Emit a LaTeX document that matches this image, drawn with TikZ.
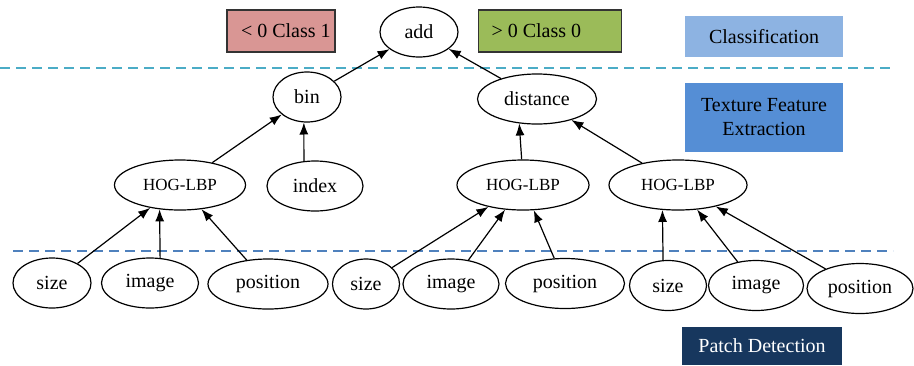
\documentclass[tikz,border=0pt]{standalone}
\usepackage{fontspec}
\setmainfont{Liberation Serif}
\usetikzlibrary{shapes.geometric,arrows.meta}
\definecolor{classred}{HTML}{D99694}
\definecolor{classgreen}{HTML}{9BBB59}
\definecolor{levellight}{HTML}{8DB3E2}
\definecolor{levelmid}{HTML}{558ED5}
\definecolor{leveldark}{HTML}{17375E}
\definecolor{sepcyan}{HTML}{4BACC6}
\definecolor{sepblue}{HTML}{4F81BD}
\newcommand{\lefttext}[2]{\makebox[#1][l]{#2}}
\begin{document}
\begin{tikzpicture}[x=0.5pt, y=-0.5pt,
		ell/.style={draw, ellipse, line width=0.6pt, inner sep=0pt, minimum height=25pt},
		hog/.style={ell, font=\fontsize{8.5}{10}\selectfont},
		classbox/.style={draw=black!80, line width=0.6pt, rectangle, minimum height=21pt, inner xsep=0pt},
		levelbox/.style={rectangle, minimum width=79pt, align=center},
		sepline/.style={dashed, dash pattern=on 5pt off 3pt, line width=0.7pt},
		edge/.style={->, >={Latex[length=6pt,width=4.5pt]}, line width=0.6pt}]
				\useasboundingbox (0, 0) rectangle (914, 365);
				% classification level
				\node[classbox, fill=classred, minimum width=54pt] (C1)at(281, 31) {\lefttext{40pt}{< 0 Class 1}};
				\node[ell, minimum width=39pt] (ADD)at(419, 32) {add};
				\node[classbox, fill=classgreen, minimum width=71.5pt] (C0)at(550, 31) {\lefttext{58.5pt}{> 0 Class 0}};
				\node[levelbox, fill=levellight, minimum height=20.5pt] (LC)at(764, 36.5) {Classification};
				\draw[sepline, sepcyan] (0, 68) -- (895, 68);
				% texture feature extraction level
				\node[ell, minimum width=34pt] (BIN)at(307, 97) {bin};
				\node[ell, minimum width=59.5pt] (DIST)at(537, 99) {distance};
				\node[levelbox, fill=levelmid, minimum height=34.5pt] (LT)at(764, 117.5) {Texture Feature\\Extraction};
				\node[hog, minimum width=65.5pt] (H1)at(180, 185) {HOG-LBP};
				\node[ell, minimum width=48pt] (IDX)at(315, 186) {index};
				\node[hog, minimum width=66pt] (H2)at(523, 185) {HOG-LBP};
				\node[hog, minimum width=69pt] (H3)at(678, 185) {HOG-LBP};
				\draw[sepline, sepblue] (13, 251) -- (893, 251);
				% patch detection level
				\node[ell, minimum width=39pt] (S1)at(52, 283) {size};
				\node[ell, minimum width=48.5pt] (I1)at(150, 283) {image};
				\node[ell, minimum width=60pt] (P1)at(268, 284) {position};
				\node[ell, minimum width=33.5pt] (S2)at(366, 284) {size};
				\node[ell, minimum width=48pt] (I2)at(451, 284) {image};
				\node[ell, minimum width=59.5pt] (P2)at(565, 283.5) {position};
				\node[ell, minimum width=38.5pt] (S3)at(668, 285.5) {size};
				\node[ell, minimum width=47.5pt] (I3)at(756, 285.5) {image};
				\node[ell, minimum width=53pt] (P3)at(860, 288.5) {position};
				\node[levelbox, fill=leveldark, text=white, minimum width=80pt, minimum height=19pt] (LP)at(762, 346) {Patch Detection};
				% edges
				\draw[edge] (BIN) -- (ADD);
				\draw[edge] (DIST) -- (ADD);
				\draw[edge] (H1) -- (BIN);
				\draw[edge] (IDX.114) -- (BIN.263);
				\draw[edge] (H2.93) -- (DIST.234);
				\draw[edge] (H3) -- (DIST);
				\draw[edge] (S1) -- (H1);
				\draw[edge] (I1.68) -- (H1.230);
				\draw[edge] (P1) -- (H1);
				\draw[edge] (S2) -- (H2);
				\draw[edge] (I2) -- (H2);
				\draw[edge] (P2) -- (H2);
				\draw[edge] (S3.101) -- (H3.238);
				\draw[edge] (I3) -- (H3);
				\draw[edge] (P3) -- (H3);
			\end{tikzpicture}
\end{document}
